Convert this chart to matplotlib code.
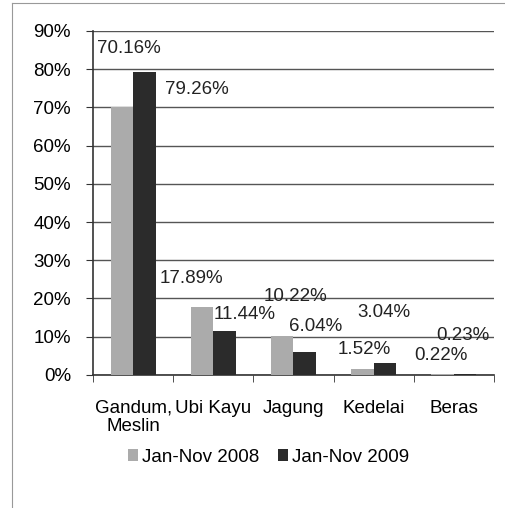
import matplotlib
matplotlib.use("Agg")
import matplotlib.pyplot as plt
from matplotlib.lines import Line2D
import numpy as np

plt.rcParams["font.family"] = ["Liberation Sans", "DejaVu Sans"]

# data
categories = ["Gandum,\nMeslin", "Ubi Kayu", "Jagung", "Kedelai", "Beras"]
share_2008 = [70.16, 17.89, 10.22, 1.52, 0.22]
share_2009 = [79.26, 11.44, 6.04, 3.04, 0.23]
series_names = ["Jan-Nov 2008", "Jan-Nov 2009"]

# label offsets in pixels (the original has them scattered around)
offsets_2008 = [(7, 58), (-11, 28), (13, 39), (2, 20), (-2, 19)]
offsets_2009 = [(52, -17), (20, 17), (11, 25), (-1, 51), (-2, 39)]

fig = plt.figure(figsize=(5.06, 5.08), dpi=100)
ax = fig.add_axes([0.184, 0.262, 0.792, 0.677])

x = np.arange(len(categories))
w = 0.28
b1 = ax.bar(x - w / 2, share_2008, w, color="#ababab", label=series_names[0], zorder=3)
b2 = ax.bar(x + w / 2, share_2009, w, color="#2b2b2b", label=series_names[1], zorder=3)

for bars, vals, offs in [(b1, share_2008, offsets_2008), (b2, share_2009, offsets_2009)]:
    for r, v, o in zip(bars, vals, offs):
        ax.annotate(f"{v:.2f}%", (r.get_x() + r.get_width() / 2, v),
                    xytext=o, textcoords="offset pixels",
                    ha="center", va="center", fontsize=13.5, color="#222222", zorder=4)

ax.set_xlim(-0.5, len(categories) - 0.5)
ax.set_ylim(0, 90)
ax.set_yticks(np.arange(0, 91, 10))
ax.set_yticklabels([f"{t}%" for t in range(0, 91, 10)], fontsize=13.5)
ax.yaxis.grid(True, color="#555555", lw=1.0, zorder=0)

ax.set_xticks(x)
ax.set_xticklabels(categories, fontsize=13.5, linespacing=1.1)
ax.set_xticks(np.arange(-0.5, len(categories), 1), minor=True)
ax.tick_params(axis="x", which="major", length=0, pad=18)
ax.tick_params(axis="x", which="minor", length=5, color="#333333")
ax.tick_params(axis="y", length=5, color="#333333", pad=11)

for s in ["top", "right"]:
    ax.spines[s].set_visible(False)
for s in ["left", "bottom"]:
    ax.spines[s].set_color("#333333")
    ax.spines[s].set_linewidth(1.2)

fig.legend(handles=[b1, b2], loc="center", bbox_to_anchor=(0.53, 0.1),
           ncol=2, frameon=False, fontsize=13.5, handlelength=0.55, handleheight=0.55,
           handletextpad=0.2, columnspacing=1.0)

# scanned page border
fig.add_artist(Line2D([0.024, 0.024], [0, 0.995], transform=fig.transFigure, color="#999999", lw=0.8))
fig.add_artist(Line2D([0.024, 1.0], [0.994, 0.994], transform=fig.transFigure, color="#999999", lw=0.8))

fig.savefig("out.png", dpi=100)
plt.close(fig)
